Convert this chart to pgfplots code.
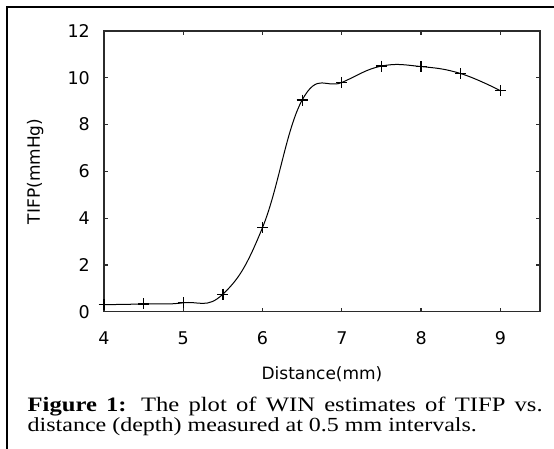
\documentclass[border=0pt]{standalone}
\usepackage{pgfplots}
\pgfplotsset{compat=1.18}
\usepackage{fontspec}
\setmainfont{Liberation Serif}
\newfontfamily\chartfont{DejaVu Sans}
\newfontfamily\capfont[FakeStretch=1.2]{Liberation Serif}
\definecolor{axisgray}{HTML}{2B2B2B}

\begin{document}
\begin{tikzpicture}
\useasboundingbox (0,0) rectangle (554pt,-449pt);
% frame of the figure box
\draw[line width=1.8pt, black] (7pt,-460pt) -- (7pt,-7pt) -- (560pt,-7pt);
\begin{axis}[
    at={(104pt,-311.7pt)}, anchor=south west,
    scale only axis, width=436pt, height=280.7pt,
    xmin=4, xmax=9.5, ymin=0, ymax=12,
    xtick={4,...,9}, ytick={0,2,...,12},
    axis line style={axisgray, line width=1.3pt},
    tick style={axisgray, line width=1.2pt},
    major tick length=4pt,
    /pgf/number format/assume math mode=true,
    tick label style={font=\chartfont\fontsize{17.5}{17.5}\selectfont, text=black, inner sep=0pt},
    xticklabel style={yshift=-20pt},
    yticklabel style={xshift=-14pt},
    xlabel={Distance(mm)}, ylabel={TIFP(mmHg)},
    label style={font=\chartfont\fontsize{17}{17}\selectfont, inner sep=0pt},
    xlabel style={at={(axis description cs:0.5,-0.2433)}, anchor=base},
    ylabel style={at={(axis description cs:-0.1468,0.5)}, anchor=base},
    clip=false,
]
\addplot[black, line width=1pt, smooth, tension=0.72,
    mark=+, mark size=5.5pt, mark options={line width=1.3pt}]
    coordinates {(4,0.3) (4.5,0.33) (5,0.38) (5.5,0.75) (6,3.6) (6.5,9.05)
                 (7,9.8) (7.5,10.5) (8,10.48) (8.5,10.18) (9,9.45)};
\end{axis}
% caption
\node[anchor=base west, inner sep=0pt] at (27.5pt,-411pt)
    {\capfont\fontsize{20.5}{21}\selectfont\makebox[515pt][s]{\textbf{Figure 1:} The plot of WIN estimates of TIFP vs.}};
\node[anchor=base west, inner sep=0pt] at (27.5pt,-431.7pt)
    {\capfont\fontsize{20}{21}\selectfont distance (depth) measured at 0.5 mm intervals.};
\end{tikzpicture}
\end{document}
